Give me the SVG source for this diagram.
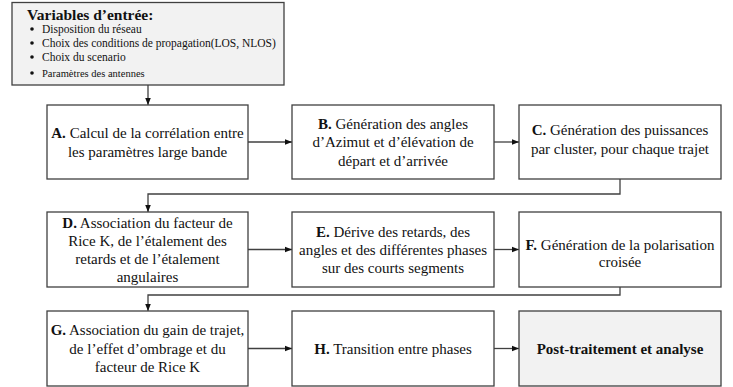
<svg xmlns="http://www.w3.org/2000/svg" width="733" height="387" viewBox="0 0 733 387" font-family="'Liberation Serif', 'Times New Roman', serif">
<style>
.box{fill:#ffffff;stroke:#404040;stroke-width:1.3}
.grey{fill:#f2f2f2;stroke:#404040;stroke-width:1.3}
text{font-family:'Liberation Serif','Times New Roman',serif;fill:#111}
.t{font-size:15px;text-anchor:middle}
.b{font-weight:bold}
.li{font-size:11.5px}
.conn{fill:none;stroke:#404040;stroke-width:1.3}
</style>
<defs>
<marker id="ah" viewBox="0 0 10 10" refX="10" refY="5" markerWidth="7" markerHeight="7" markerUnits="userSpaceOnUse" orient="auto">
<path d="M0,1 L10,5 L0,9 z" fill="#111"/>
</marker>
</defs>
<rect width="733" height="387" fill="#ffffff"/>
<g id="connectors">
<line class="conn" x1="148" y1="85" x2="148" y2="105" marker-end="url(#ah)"/>
<line class="conn" x1="248" y1="142" x2="292" y2="142" marker-end="url(#ah)"/>
<line class="conn" x1="494" y1="142" x2="519" y2="142" marker-end="url(#ah)"/>
<polyline class="conn" points="620,179 620,194 148,194 148,212" marker-end="url(#ah)"/>
<line class="conn" x1="248" y1="249.5" x2="292" y2="249.5" marker-end="url(#ah)"/>
<line class="conn" x1="494" y1="249.5" x2="519" y2="249.5" marker-end="url(#ah)"/>
<polyline class="conn" points="620,287 620,295 148,295 148,311" marker-end="url(#ah)"/>
<line class="conn" x1="248" y1="348.5" x2="292" y2="348.5" marker-end="url(#ah)"/>
<line class="conn" x1="494" y1="348.5" x2="519" y2="348.5" marker-end="url(#ah)"/>
</g>
<g id="input">
<rect class="grey" x="12" y="2.5" width="272" height="82.5"/>
<text x="27" y="20" style="font-size:15.5px;font-weight:bold">Variables d’entrée:</text>
<circle cx="32" cy="29" r="1.8" fill="#111"/>
<circle cx="32" cy="43" r="1.8" fill="#111"/>
<circle cx="32" cy="57" r="1.8" fill="#111"/>
<circle cx="32" cy="73" r="1.8" fill="#111"/>
<text class="li" x="42" y="33">Disposition du réseau</text>
<text class="li" x="42" y="47">Choix des conditions de propagation(LOS, NLOS)</text>
<text class="li" x="42" y="61">Choix du scenario</text>
<text class="li" x="42" y="77" style="font-size:10.5px">Paramètres des antennes</text>
</g>
<g id="nodeA">
<rect class="box" x="47" y="105" width="201" height="74"/>
<text class="t" x="147.5" y="137.5"><tspan class="b">A.</tspan> Calcul de la corrélation entre</text>
<text class="t" x="147.5" y="156.5">les paramètres large bande</text>
</g>
<g id="nodeB">
<rect class="box" x="292" y="105" width="202" height="74"/>
<text class="t" x="393" y="128.5"><tspan class="b">B.</tspan> Génération des angles</text>
<text class="t" x="393" y="147">d’Azimut et d’élévation de</text>
<text class="t" x="393" y="165.5">départ et d’arrivée</text>
</g>
<g id="nodeC">
<rect class="box" x="519" y="105" width="202" height="74"/>
<text class="t" x="620" y="135"><tspan class="b">C.</tspan> Génération des puissances</text>
<text class="t" x="620" y="153.5">par cluster, pour chaque trajet</text>
</g>
<g id="nodeD">
<rect class="box" x="47" y="212" width="201" height="75"/>
<text class="t" x="147.5" y="227.5"><tspan class="b">D.</tspan> Association du facteur de</text>
<text class="t" x="147.5" y="245.5">Rice K, de l’étalement des</text>
<text class="t" x="147.5" y="263.5">retards et de l’étalement</text>
<text class="t" x="147.5" y="281.5">angulaires</text>
</g>
<g id="nodeE">
<rect class="box" x="292" y="212" width="202" height="75"/>
<text class="t" x="393" y="236.5"><tspan class="b">E.</tspan> Dérive des retards, des</text>
<text class="t" x="393" y="254.5">angles et des différentes phases</text>
<text class="t" x="393" y="272.5">sur des courts segments</text>
</g>
<g id="nodeF">
<rect class="box" x="519" y="212" width="202" height="75"/>
<text class="t" x="620" y="250"><tspan class="b">F.</tspan> Génération de la polarisation</text>
<text class="t" x="620" y="267">croisée</text>
</g>
<g id="nodeG">
<rect class="box" x="47" y="311" width="201" height="75"/>
<text class="t" x="147.5" y="335"><tspan class="b">G.</tspan> Association du gain de trajet,</text>
<text class="t" x="147.5" y="353.5">de l’effet d’ombrage et du</text>
<text class="t" x="147.5" y="372">facteur de Rice K</text>
</g>
<g id="nodeH">
<rect class="box" x="292" y="311" width="202" height="75"/>
<text class="t" x="393" y="353.5"><tspan class="b">H.</tspan> Transition entre phases</text>
</g>
<g id="nodePost">
<rect class="grey" x="519" y="311" width="202" height="75"/>
<text class="t b" x="620" y="353.5">Post-traitement et analyse</text>
</g>
</svg>
